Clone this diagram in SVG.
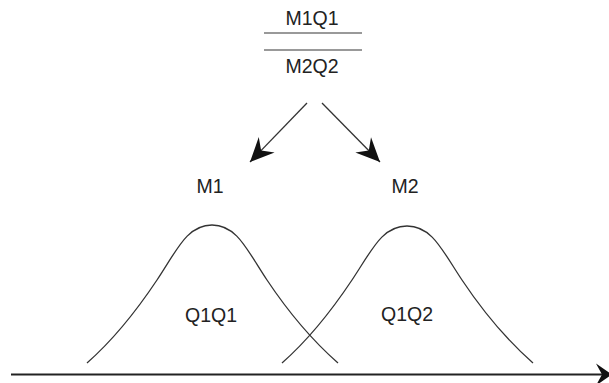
<svg xmlns="http://www.w3.org/2000/svg" width="609" height="383" viewBox="0 0 609 383">
<style>
text { font-family: "Liberation Sans", Arial, sans-serif; fill: #222; text-anchor: middle; }
.lbl { font-size: 19.5px; }
.curve { fill: none; stroke: #333; stroke-width: 1.3; }
.frac { stroke: #777; stroke-width: 1.6; }
.conn { stroke: #333; stroke-width: 1.3; fill: none; }
.axis { stroke: #222; stroke-width: 2.2; fill: none; }
</style>
<defs>
<marker id="barb" markerUnits="userSpaceOnUse" markerWidth="34" markerHeight="34" refX="0" refY="0" viewBox="-29 -17 34 34" orient="auto">
<path d="M0,0 L-24,-11 L-16,0 L-24,11 Z" fill="#111"/>
</marker>
<marker id="axhead" markerUnits="userSpaceOnUse" markerWidth="30" markerHeight="30" refX="0" refY="0" viewBox="-25 -15 30 30" orient="auto">
<path d="M0,0 L-16,-11 L-10,0 L-16,11 Z" fill="#111"/>
</marker>
</defs>
<g id="fraction">
<text class="lbl" x="312" y="25">M1Q1</text>
<line class="frac" x1="264" y1="33" x2="362" y2="33"/>
<line class="frac" x1="264" y1="50" x2="362" y2="50"/>
<text class="lbl" x="312" y="73">M2Q2</text>
</g>
<g id="m1"><text class="lbl" x="210" y="193">M1</text></g>
<g id="m2"><text class="lbl" x="405" y="193">M2</text></g>
<g id="dist1">
<path class="curve" d="M87,363 C112,341 135,313 157,280 C177,250 187,225 212,225 C237,225 247,250 267,280 C289,313 313,341 338,363"/>
<text class="lbl" x="211" y="322">Q1Q1</text>
</g>
<g id="dist2">
<path class="curve" d="M282,363 C307,341 330,313 352,280 C372,250 382,226 407,226 C432,226 442,250 462,280 C484,313 508,341 533,363"/>
<text class="lbl" x="407" y="321">Q1Q2</text>
</g>
<g id="connectors">
<line class="conn" x1="307" y1="103" x2="250" y2="162" marker-end="url(#barb)"/>
<line class="conn" x1="322" y1="103" x2="380" y2="162" marker-end="url(#barb)"/>
<line class="axis" x1="11" y1="374.5" x2="612" y2="374.5" marker-end="url(#axhead)"/>
</g>
</svg>
